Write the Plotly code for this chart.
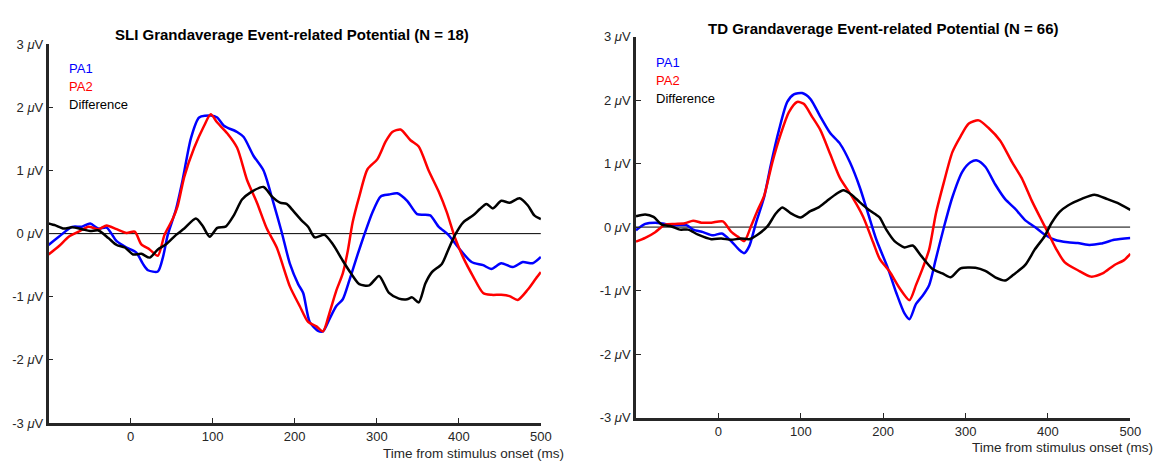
import plotly.graph_objects as go

# ---------------- data ----------------
# SLI panel
sli_pa1_t = [-100, -87.5, -71.4, -59.3, -49.3, -39.2, -29.2, -17, -5, 7, 15.1, 21.2, 33.2, 39.3, 45.3, 55.4, 63.4, 73.5, 83.5, 97.6, 105.6, 113.7, 129.8, 137.8, 149.9, 162, 174, 184, 194.2, 204.2,
             210.3, 218.3, 228.4, 234.4, 242.5, 250.5, 258.6, 266.6, 276.7, 284.7, 294.8, 304.8, 314.9, 325, 337, 349.1, 357.1, 365.2, 375.3, 387.3, 399.4, 415.5, 429.6, 439.6, 451.7, 465.8, 477.9, 490, 500]
sli_pa1_v = [-0.18, -0.05, 0.107, 0.11, 0.16, 0.08, 0.095, -0.12, -0.22, -0.30, -0.48, -0.58, -0.60, -0.38, -0.02, 0.39, 0.85, 1.51, 1.84, 1.87, 1.84, 1.71, 1.61, 1.53, 1.23, 1.0, 0.49, 0.03, -0.48, -0.80,
             -0.94, -1.40, -1.54, -1.55, -1.35, -1.15, -1.04, -0.74, -0.33, -0.02, 0.34, 0.59, 0.62, 0.64, 0.52, 0.31, 0.30, 0.29, 0.11, -0.02, -0.22, -0.45, -0.50, -0.56, -0.47, -0.53, -0.45, -0.47, -0.37]

sli_pa2_t = [-100, -87.5, -75.4, -63.4, -51.3, -39.2, -29.2, -17, -5, 5, 13.1, 23.2, 33.2, 41.3, 51.3, 57.4, 65.4, 77.5, 89.6, 97.6, 105.6, 117.7, 129.8, 141.9, 154, 166, 178.1, 194.2,
             206.2, 216.3, 226.4, 234.4, 242.5, 250.5, 258.6, 264.6, 270.6, 278.7, 288.7, 300.8, 310.9, 318.9, 329, 341.1, 351.1, 363.2, 375.3, 385.3, 395.4, 405.4, 417.5, 429.6, 439.6, 451.7, 461.8, 471.8, 483.9, 494, 500]
sli_pa2_v = [-0.33, -0.20, -0.05, 0.03, 0.11, 0.07, 0.13, 0.07, 0.01, 0.03, -0.17, -0.25, -0.35, -0.02, 0.23, 0.44, 0.90, 1.36, 1.71, 1.89, 1.76, 1.59, 1.36, 0.85, 0.49, 0.08, -0.22, -0.84,
             -1.15, -1.40, -1.47, -1.55, -1.25, -0.91, -0.63, -0.28, 0.18, 0.59, 1.02, 1.18, 1.46, 1.61, 1.65, 1.48, 1.38, 1.0, 0.67, 0.34, -0.07, -0.38, -0.68, -0.94, -0.97, -0.97, -0.99, -1.05, -0.89, -0.71, -0.61]

sli_diff_t = [-100, -91.5, -81.5, -71.4, -59.3, -49.3, -39.2, -27.1, -17, -7, 3, 13.1, 23.2, 33.2, 43.3, 55.4, 65.4, 79.5, 87.5, 96.4, 105.6, 115.7, 125.8, 135.8, 145.9, 162, 172, 182.1, 190.2, 198.2,
              208.3, 216.3, 224.4, 236.4, 246.5, 258.6, 268.6, 278.7, 290.8, 302.8, 314.9, 327, 337, 343.1, 351.1, 359.2, 367.2, 379.3, 387.3, 395.4, 405.4, 417.5, 425.6, 433.6, 441.6, 451.7, 461.8, 473.9, 483.9, 492, 500]
sli_diff_v = [0.16, 0.13, 0.08, 0.10, 0.07, 0.04, 0.05, -0.07, -0.18, -0.22, -0.33, -0.32, -0.38, -0.25, -0.17, -0.02, 0.08, 0.24, 0.13, -0.05, 0.09, 0.11, 0.29, 0.54, 0.65, 0.74, 0.59, 0.49, 0.47, 0.36,
              0.21, 0.11, -0.06, -0.02, -0.17, -0.43, -0.63, -0.80, -0.82, -0.67, -0.94, -1.03, -1.04, -1.01, -1.09, -0.79, -0.61, -0.48, -0.25, -0.02, 0.18, 0.29, 0.39, 0.47, 0.40, 0.52, 0.49, 0.56, 0.45, 0.29, 0.23]

# TD panel
td_pa1_t = [-100, -88.8, -76.7, -64.7, -52.7, -38.7, -30.7, -18.6, -6.6, 4.2, 15.4, 25.5, 31.5, 37.5, 45.5, 55.5, 63.5, 73.6, 83.6, 91.6, 101.6, 111.6, 123.7, 135.7, 147.7, 159.7, 171.8, 181.8, 191.8,
            205.8, 215.8, 225.9, 231.9, 239.9, 247.9, 255.9, 264, 274, 284, 296, 306, 314, 324, 336.1, 348.1, 360.1, 372.2, 384.2, 396.2, 408.2, 424.3, 436.3, 448.3, 464.4, 480.4, 500]
td_pa1_v = [-0.05, 0.05, 0.07, 0.05, 0.03, 0.03, -0.04, -0.08, -0.13, -0.10, -0.22, -0.36, -0.41, -0.30, 0.06, 0.47, 0.97, 1.53, 1.97, 2.09, 2.11, 2.02, 1.74, 1.48, 1.31, 1.02, 0.62, 0.21, -0.20,
            -0.65, -1.03, -1.36, -1.45, -1.21, -1.08, -0.91, -0.50, 0.01, 0.47, 0.87, 1.02, 1.05, 0.95, 0.67, 0.44, 0.29, 0.11, 0.0, -0.12, -0.20, -0.24, -0.25, -0.28, -0.26, -0.20, -0.17]

td_pa2_t = [-100, -88.8, -76.7, -64.7, -52.7, -40.7, -30.7, -20.6, -8.6, 5.4, 15.4, 23.5, 31.5, 39.5, 47.5, 55.5, 65.5, 75.6, 85.6, 95.6, 103.6, 113.6, 123.7, 135.7, 147.7, 161.7, 175.8, 187.8, 195.8,
            207.8, 219.8, 231.9, 239.9, 247.9, 255.9, 264, 274, 284, 294, 304, 316, 328, 342.1, 356.1, 368.2, 380.2, 392.2, 400.2, 410.2, 420.2, 436.3, 452.3, 466.3, 480.4, 492.4, 500]
td_pa2_v = [-0.23, -0.17, -0.08, 0.04, 0.05, 0.06, 0.10, 0.07, 0.07, 0.09, -0.07, -0.15, -0.22, 0.01, 0.26, 0.49, 1.02, 1.46, 1.81, 1.97, 1.94, 1.74, 1.53, 1.15, 0.77, 0.49, 0.16, -0.24, -0.50,
            -0.70, -0.96, -1.15, -0.91, -0.65, -0.35, 0.21, 0.72, 1.18, 1.43, 1.63, 1.68, 1.56, 1.36, 1.03, 0.77, 0.42, 0.11, -0.09, -0.35, -0.55, -0.68, -0.78, -0.73, -0.60, -0.52, -0.42]

td_diff_t = [-100, -88.8, -78.7, -68.7, -56.7, -46.7, -36.7, -24.6, -8.6, 3.4, 15.4, 27.5, 37.5, 47.5, 59.5, 69.5, 77.6, 87.6, 99.6, 111.6, 121.7, 131.7, 141.7, 151.7, 161.7, 171.8, 183.8, 191.8, 195.8,
             203.8, 213.8, 225.9, 235.9, 245.9, 259.9, 272, 282, 294, 312, 324, 336.1, 348.1, 358.1, 372.2, 384.2, 396.2, 404.2, 414.2, 424.3, 440.3, 456.3, 472.3, 484.4, 500]
td_diff_v = [0.17, 0.20, 0.16, 0.04, 0.01, -0.04, -0.04, -0.12, -0.19, -0.18, -0.20, -0.18, -0.19, -0.12, 0.01, 0.21, 0.31, 0.22, 0.15, 0.25, 0.31, 0.41, 0.51, 0.58, 0.51, 0.39, 0.26, 0.19, 0.15,
             -0.04, -0.22, -0.32, -0.29, -0.45, -0.66, -0.73, -0.79, -0.65, -0.64, -0.69, -0.79, -0.84, -0.75, -0.60, -0.35, -0.14, 0.06, 0.24, 0.34, 0.44, 0.51, 0.44, 0.38, 0.27]

titles = ["SLI Grandaverage Event-related Potential (N = 18)",
          "TD Grandaverage Event-related Potential (N = 66)"]
series_names = ["PA1", "PA2", "Difference"]
series_colors = ["#0000ff", "#ff0000", "#000000"]
x_ticks = [0, 100, 200, 300, 400, 500]
y_ticks = [-3, -2, -1, 0, 1, 2, 3]
y_tick_text = ["-3 <i>μ</i>V", "-2 <i>μ</i>V", "-1 <i>μ</i>V", "0 <i>μ</i>V", "1 <i>μ</i>V", "2 <i>μ</i>V", "3 <i>μ</i>V"]
x_title = "Time from stimulus onset (ms)"

panels = [
    [(sli_pa1_t, sli_pa1_v), (sli_pa2_t, sli_pa2_v), (sli_diff_t, sli_diff_v)],
    [(td_pa1_t, td_pa1_v), (td_pa2_t, td_pa2_v), (td_diff_t, td_diff_v)],
]

# ---------------- layout geometry (pixels) ----------------
W, H = 1175, 476
def px(x):
    return x / W
def py(y):
    return 1 - y / H

x_domains = [[px(49), px(546)], [px(642), px(1141)]]
y_domains = [[py(429.5), py(38.5)], [py(424), py(30.5)]]
title_pos = [(295, 28.3), (891.5, 21.8)]
xtitle_pos = [(571, 461), (1166, 455)]
legend_pos = [(67.5, [63.3, 82.3, 101]), (660.5, [56.8, 75.8, 94.5])]

FONT = "Liberation Sans, Arial, Helvetica, sans-serif"
AX = "#262626"

fig = go.Figure()
annotations = []
for i, panel in enumerate(panels):
    xa = "x" if i == 0 else "x2"
    ya = "y" if i == 0 else "y2"
    # zero line
    fig.add_trace(go.Scatter(x=[-100, 500], y=[0, 0], mode="lines",
                             line=dict(color="black", width=1),
                             xaxis=xa, yaxis=ya, showlegend=False, hoverinfo="skip"))
    for (t, v), name, col in zip(panel, series_names, series_colors):
        fig.add_trace(go.Scatter(x=t, y=v, mode="lines", name=name,
                                 line=dict(color=col, width=2.5, shape="spline", smoothing=0.7),
                                 xaxis=xa, yaxis=ya, showlegend=False))
    axkw = dict(showline=True, linecolor=AX, linewidth=2.5, ticks="inside", ticklen=5,
                tickcolor=AX, tickwidth=1, showgrid=False, zeroline=False,
                tickfont=dict(family=FONT, size=13, color=AX))
    fig.update_layout(**{
        ("xaxis" if i == 0 else "xaxis2"): dict(domain=x_domains[i], range=[-100, 500],
                                                 tickvals=x_ticks, anchor=ya, **axkw),
        ("yaxis" if i == 0 else "yaxis2"): dict(domain=y_domains[i], range=[-3, 3],
                                                 tickvals=y_ticks, ticktext=y_tick_text,
                                                 anchor=xa, **axkw),
    })
    tx, ty = title_pos[i]
    annotations.append(dict(text="<b>" + titles[i] + "</b>", x=px(tx), y=py(ty), xref="paper", yref="paper",
                            xanchor="center", yanchor="middle", showarrow=False,
                            font=dict(family=FONT, size=15, color="black")))
    xx, xy = xtitle_pos[i]
    annotations.append(dict(text=x_title, x=px(xx), y=py(xy), xref="paper", yref="paper",
                            xanchor="right", yanchor="middle", showarrow=False,
                            font=dict(family=FONT, size=13.5, color=AX)))
    lx, lys = legend_pos[i]
    for name, col, ly in zip(series_names, series_colors, lys):
        annotations.append(dict(text=name, x=px(lx), y=py(ly), xref="paper", yref="paper",
                                xanchor="left", yanchor="middle", showarrow=False,
                                font=dict(family=FONT, size=13, color=col)))

fig.update_layout(width=W, height=H, margin=dict(l=0, r=0, t=0, b=0),
                  plot_bgcolor="white", paper_bgcolor="white",
                  annotations=annotations, showlegend=False,
                  font=dict(family=FONT))

fig.write_html("out.html")
